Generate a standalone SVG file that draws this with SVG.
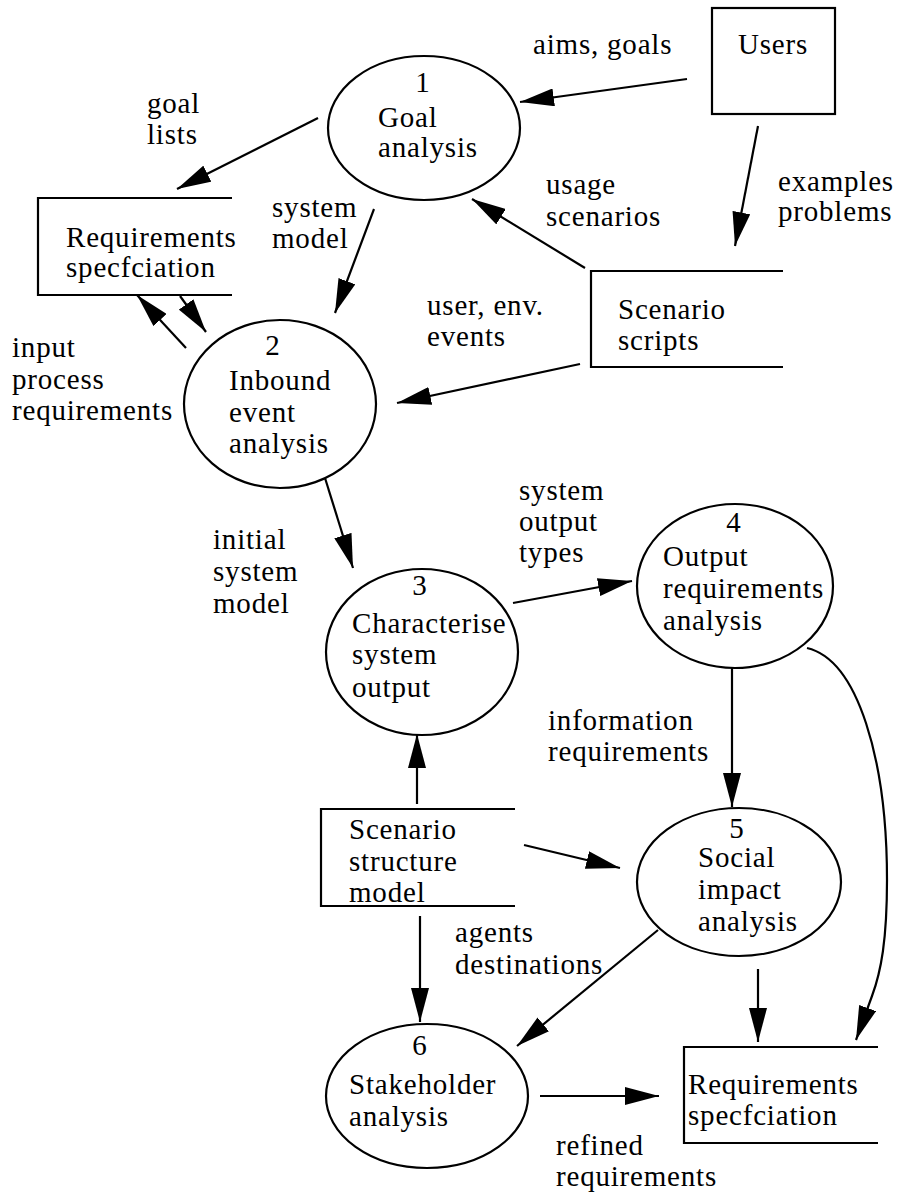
<svg xmlns="http://www.w3.org/2000/svg" width="901" height="1198" viewBox="0 0 901 1198" font-family="'Liberation Serif', 'Times New Roman', Times, serif">
<style>
  text { font-family: "Liberation Serif", "Times New Roman", Times, serif; font-size: 29px; letter-spacing: 0.8px; fill: #000; }
  .c { text-anchor: middle; }
  .shape { fill: #fff; stroke: #000; stroke-width: 2.2; }
  .edge { fill: none; stroke: #000; stroke-width: 2.2; marker-end: url(#ah); }
  .box { fill: none; stroke: #000; stroke-width: 2.2; }
</style>
<defs>
  <marker id="ah" markerUnits="userSpaceOnUse" markerWidth="35" markerHeight="18" refX="34" refY="9" orient="auto">
    <path d="M0,0 L34,9 L0,18 z" fill="#000"/>
  </marker>
</defs>
<rect width="901" height="1198" fill="#fff"/>

<g id="connectors">
  <line class="edge" x1="687" y1="79" x2="520" y2="102"/>
  <line class="edge" x1="758" y1="126" x2="735" y2="246"/>
  <line class="edge" x1="585" y1="268" x2="472" y2="199"/>
  <line class="edge" x1="318" y1="118" x2="177" y2="189"/>
  <line class="edge" x1="374" y1="209" x2="335" y2="313"/>
  <line class="edge" x1="186" y1="348" x2="137" y2="295"/>
  <line class="edge" x1="180" y1="296" x2="206" y2="332"/>
  <line class="edge" x1="580" y1="364" x2="397" y2="403"/>
  <line class="edge" x1="325" y1="478" x2="353" y2="568"/>
  <line class="edge" x1="513" y1="603" x2="632" y2="581"/>
  <line class="edge" x1="417" y1="804" x2="417" y2="734"/>
  <line class="edge" x1="732" y1="664" x2="732" y2="807"/>
  <line class="edge" x1="524" y1="845" x2="620" y2="868"/>
  <line class="edge" x1="420" y1="916" x2="420" y2="1022"/>
  <line class="edge" x1="658" y1="930" x2="517" y2="1046"/>
  <line class="edge" x1="758" y1="969" x2="758" y2="1042"/>
  <line class="edge" x1="540" y1="1096" x2="659" y2="1096"/>
  <path class="edge" d="M807,648 C858,660 887,760 887,880 C887,940 881,972 872,996 L856,1040"/>

  <text x="533" y="54">aims, goals</text>
  <text><tspan x="147" y="113">goal</tspan><tspan x="147" y="144">lists</tspan></text>
  <text><tspan x="272" y="217">system</tspan><tspan x="272" y="248">model</tspan></text>
  <text><tspan x="546" y="194">usage</tspan><tspan x="546" y="226">scenarios</tspan></text>
  <text><tspan x="778" y="191">examples</tspan><tspan x="778" y="221">problems</tspan></text>
  <text><tspan x="427" y="315">user, env.</tspan><tspan x="427" y="346">events</tspan></text>
  <text><tspan x="12" y="357">input</tspan><tspan x="12" y="389">process</tspan><tspan x="12" y="420">requirements</tspan></text>
  <text><tspan x="213" y="549">initial</tspan><tspan x="213" y="581">system</tspan><tspan x="213" y="613">model</tspan></text>
  <text><tspan x="519" y="500">system</tspan><tspan x="519" y="531">output</tspan><tspan x="519" y="562">types</tspan></text>
  <text><tspan x="548" y="730">information</tspan><tspan x="548" y="761">requirements</tspan></text>
  <text><tspan x="455" y="942">agents</tspan><tspan x="455" y="974">destinations</tspan></text>
  <text><tspan x="556" y="1155">refined</tspan><tspan x="556" y="1186">requirements</tspan></text>
</g>

<g id="users">
  <rect class="shape" x="712" y="8" width="123" height="106"/>
  <text x="738" y="54">Users</text>
</g>

<g id="req-spec-top">
  <path class="box" d="M232,198 H38 V295 H232"/>
  <text><tspan x="66" y="247">Requirements</tspan><tspan x="66" y="277">specfciation</tspan></text>
</g>

<g id="scenario-scripts">
  <path class="box" d="M783,271 H591 V367 H783"/>
  <text><tspan x="618" y="319">Scenario</tspan><tspan x="618" y="350">scripts</tspan></text>
</g>

<g id="scenario-structure">
  <path class="box" d="M515,809 H321 V906 H515"/>
  <text><tspan x="349" y="839">Scenario</tspan><tspan x="349" y="871">structure</tspan><tspan x="349" y="902">model</tspan></text>
</g>

<g id="req-spec-bottom">
  <path class="box" d="M878,1047 H684 V1143 H878"/>
  <text><tspan x="688" y="1094">Requirements</tspan><tspan x="688" y="1125">specfciation</tspan></text>
</g>

<g id="p1">
  <ellipse class="shape" cx="424" cy="128" rx="96" ry="72"/>
  <text class="c" x="423" y="92">1</text>
  <text><tspan x="378" y="127">Goal</tspan><tspan x="378" y="157">analysis</tspan></text>
</g>

<g id="p2">
  <ellipse class="shape" cx="280" cy="404" rx="96" ry="84"/>
  <text class="c" x="273" y="355">2</text>
  <text><tspan x="229" y="390">Inbound</tspan><tspan x="229" y="422">event</tspan><tspan x="229" y="453">analysis</tspan></text>
</g>

<g id="p3">
  <ellipse class="shape" cx="422" cy="652" rx="96" ry="83"/>
  <text class="c" x="420" y="595">3</text>
  <text><tspan x="352" y="633">Characterise</tspan><tspan x="352" y="664">system</tspan><tspan x="352" y="697">output</tspan></text>
</g>

<g id="p4">
  <ellipse class="shape" cx="735" cy="586" rx="98" ry="82"/>
  <text class="c" x="734" y="532">4</text>
  <text><tspan x="663" y="566">Output</tspan><tspan x="663" y="598">requirements</tspan><tspan x="663" y="630">analysis</tspan></text>
</g>

<g id="p5">
  <ellipse class="shape" cx="739" cy="882" rx="102" ry="74"/>
  <text class="c" x="737" y="838">5</text>
  <text><tspan x="698" y="867">Social</tspan><tspan x="698" y="899">impact</tspan><tspan x="698" y="931">analysis</tspan></text>
</g>

<g id="p6">
  <ellipse class="shape" cx="427" cy="1096" rx="101" ry="72"/>
  <text class="c" x="420" y="1055">6</text>
  <text><tspan x="349" y="1094">Stakeholder</tspan><tspan x="349" y="1126">analysis</tspan></text>
</g>
</svg>
